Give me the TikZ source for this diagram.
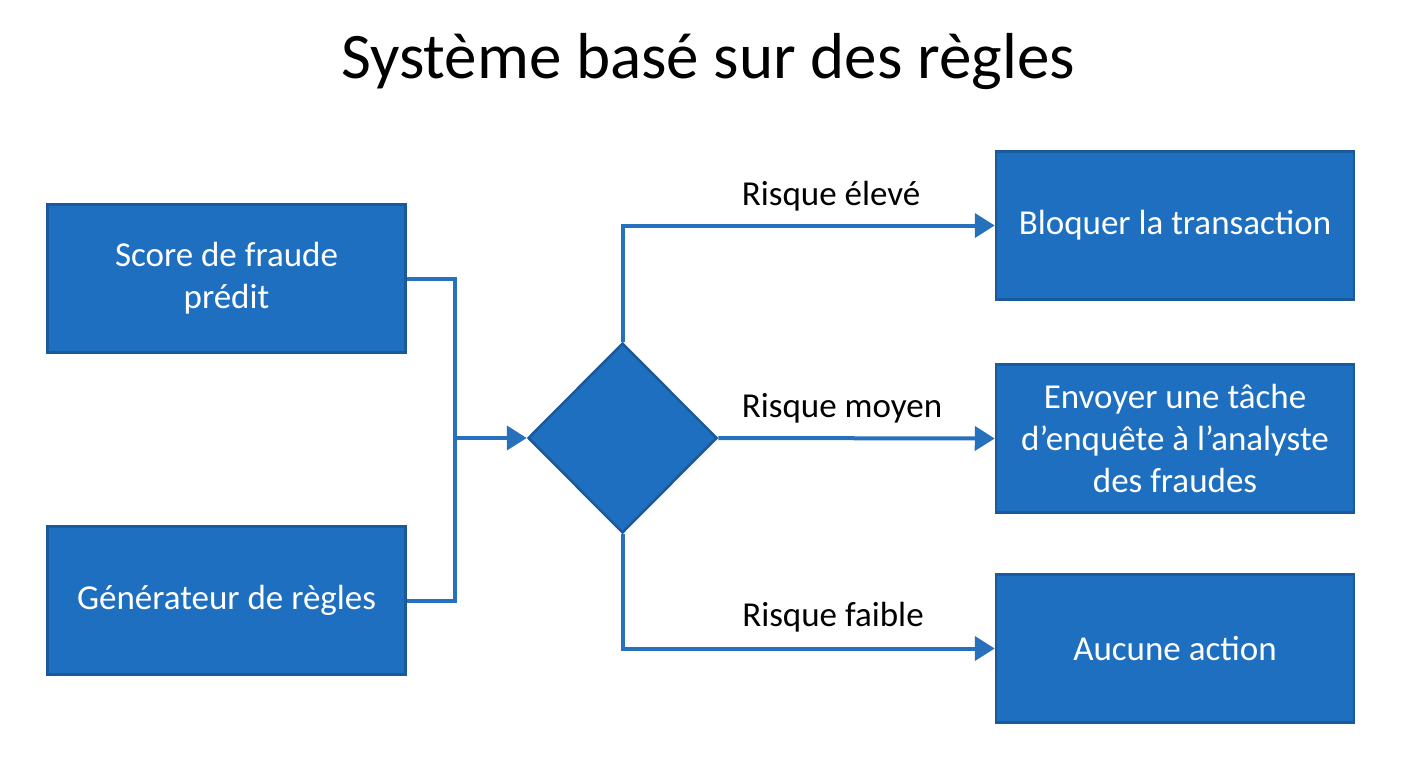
\documentclass[tikz,border=0pt]{standalone}
\usepackage{fontspec}
\setmainfont{Carlito}
\usetikzlibrary{arrows.meta,shapes.geometric}
\definecolor{boxfill}{HTML}{1E6FC0}
\definecolor{boxline}{HTML}{1A5A9A}
\definecolor{conn}{HTML}{2670BC}
\tikzset{
  box/.style={rectangle, draw=boxline, fill=boxfill, line width=2.5pt, minimum width=358pt, minimum height=148pt, inner sep=0pt, text=white, align=center, font=\fontsize{35}{42}\selectfont},
  decision/.style={diamond, draw=boxline, fill=boxfill, line width=2.5pt, minimum width=189pt, minimum height=190pt, inner sep=0pt},
  conn/.style={draw=conn, line width=4pt},
  arr/.style={conn, -{Triangle[length=20pt,width=24pt]}},
  lbl/.style={text=black, font=\fontsize{35}{42}\selectfont, inner sep=0pt}
}
\begin{document}
\begin{tikzpicture}[x=1pt,y=-1pt]
\useasboundingbox (0,0) rectangle (1408,768);
\fill[white] (0,0) rectangle (1408,768);
\node[font=\fontsize{65}{75}\selectfont, inner sep=0pt] (title) at (708,62) {Système basé sur des règles};
\node[box] (score) at (226.5,278.5) {Score de fraude\\prédit};
\node[box] (gen) at (226.5,600.5) {Générateur de règles};
\node[decision] (dec) at (622.5,438) {};
\node[box] (block) at (1175,225.5) {Bloquer la transaction};
\node[box] (send) at (1175,438.5) {Envoyer une tâche\\d’enquête à l’analyste\\des fraudes};
\node[box] (none) at (1175,648.5) {Aucune action};
\coordinate (join) at (455,438);
\draw[conn, line join=miter] (score.east) -- (join |- score.east) -- (join);
\draw[conn, line join=miter] (gen.east) -- (join |- gen.east) -- (join);
\draw[arr] (join) -- (dec.west);
\draw[arr, line join=miter] (dec.north) -- (dec.north |- block.west) -- (block.west);
\draw[arr] (dec.east) -- (send.west);
\draw[arr, line join=miter] (dec.south) -- (dec.south |- none.west) -- (none.west);
\node[lbl] (l1) at (831,196) {Risque élevé};
\node[lbl] (l2) at (842,408) {Risque moyen};
\node[lbl] (l3) at (833,617) {Risque faible};
\end{tikzpicture}
\end{document}
